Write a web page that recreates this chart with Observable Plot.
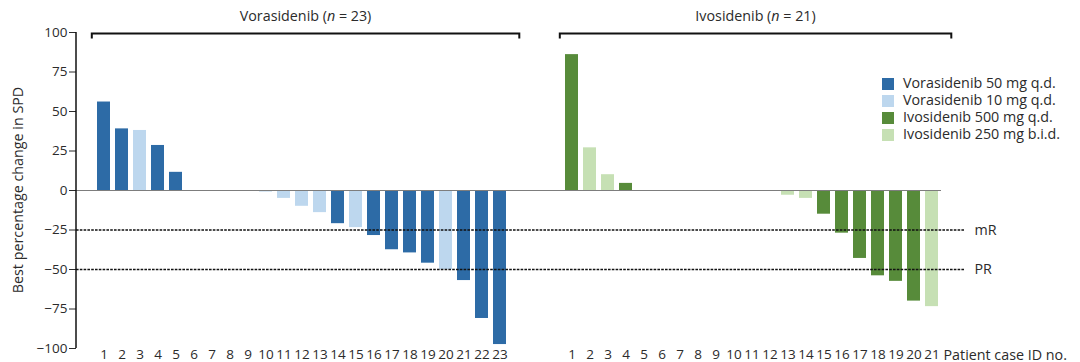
<!DOCTYPE html>
<html>
<head>
<meta charset="utf-8">
<script src="https://cdn.jsdelivr.net/npm/d3@7"></script>
<script src="https://cdn.jsdelivr.net/npm/@observablehq/plot@0.6"></script>
<style>
  html, body { margin: 0; padding: 0; background: #fff; }
  #chart { width: 1080px; height: 362px; }
</style>
</head>
<body>
<div id="chart"></div>
<script>
// ---- data ----
const groupNames = ["Vorasidenib", "Ivosidenib"];
const groupN = [23, 21];

const vorCases = ["1","2","3","4","5","6","7","8","9","10","11","12","13","14","15","16","17","18","19","20","21","22","23"];
const vorValues = [56, 39, 38, 28.5, 11.5, 0, 0, 0, 0, -1, -5, -10, -14, -21, -23.5, -28.5, -37.5, -39.5, -46, -50, -57, -81, -97.5];
const vorDoses = ["50","50","10","50","50","50","50","50","50","10","10","10","10","50","10","50","50","50","50","10","50","50","50"];

const ivoCases = ["1","2","3","4","5","6","7","8","9","10","11","12","13","14","15","16","17","18","19","20","21"];
const ivoValues = [86, 27, 10, 4.5, 0, 0, 0, 0, 0, 0, 0, 0, -3, -5, -15, -27, -43, -54, -57.5, -70, -73.5];
const ivoDoses = ["500","250","250","500","500","500","500","500","500","500","500","500","250","250","500","500","500","500","500","500","250"];

const doseLabels = ["Vorasidenib 50 mg q.d.", "Vorasidenib 10 mg q.d.", "Ivosidenib 500 mg q.d.", "Ivosidenib 250 mg b.i.d."];
const doseColors = ["#2d6ba6", "#bdd7ee", "#578b3a", "#c6e0b4"];
const yTicks = [100, 75, 50, 25, 0, -25, -50, -75, -100];
const thresholds = [-25, -50];
const thresholdLabels = ["mR", "PR"];
const xAxisTitle = "Patient case ID no.";
const yAxisTitle = "Best percentage change in SPD";

// ---- build table ----
const vorDoseLabel = {"50": doseLabels[0], "10": doseLabels[1]};
const ivoDoseLabel = {"500": doseLabels[2], "250": doseLabels[3]};
const rows = [
  ...vorCases.map((c, i) => ({key: "V" + c, label: c, value: vorValues[i], dose: vorDoseLabel[vorDoses[i]], group: 0})),
  ...ivoCases.map((c, i) => ({key: "I" + c, label: c, value: ivoValues[i], dose: ivoDoseLabel[ivoDoses[i]], group: 1}))
];
const labelOf = new Map(rows.map(d => [d.key, d.label]));
const xDomain = ["lead", ...vorCases.map(c => "V" + c), "gap1", "gap2", "gap3", ...ivoCases.map(c => "I" + c)];

const FONT = "'Open Sans', 'Liberation Sans', sans-serif";
const TXT = "#2b2b2b";
const FS = 14.3;

const chart = Plot.plot({
  width: 1080,
  height: 362,
  marginLeft: 76,
  marginRight: 140,
  marginTop: 32,
  marginBottom: 14,
  style: {fontFamily: FONT, fontSize: "13.5px", color: TXT, background: "#fff", overflow: "visible"},
  x: {type: "band", domain: xDomain, paddingInner: 0.28, paddingOuter: 0.14, align: 0.5},
  y: {domain: [-100, 100]},
  color: {domain: doseLabels, range: doseColors},
  marks: [
    Plot.barY(rows.filter(d => d.value !== 0), {x: "key", y: "value", fill: "dose"}),
    Plot.ruleY([0], {stroke: "#7d7d7d", strokeWidth: 1, insetRight: -1}),
    Plot.ruleY(thresholds, {stroke: "#111", strokeWidth: 1.5, strokeDasharray: "2.6,1.2", insetRight: -25}),
    Plot.text(thresholds, {y: d => d, text: (d, i) => thresholdLabels[i], frameAnchor: "right", dx: 34, textAnchor: "start", fontSize: FS, fill: TXT}),
    Plot.axisY({ticks: yTicks, tickSize: 7, tickPadding: 2, label: null, fontSize: 13.5}),
    Plot.axisX({tickSize: 0, tickPadding: 1, tickFormat: k => labelOf.get(k) ?? "", label: null, fontSize: 13.5}),
    Plot.text([xAxisTitle], {text: d => d, frameAnchor: "bottom-right", textAnchor: "start", lineAnchor: "top", dx: 3, dy: 1, fontSize: FS, fill: TXT})
  ]
});

document.getElementById("chart").appendChild(chart);

// ---- annotations positioned from the plot's own scales ----
const svg = d3.select(chart);
const xs = chart.scale("x");
const ys = chart.scale("y");
const bw = xs.bandwidth;
const step = xs.step;
const cx = k => xs.apply(k) + bw / 2;
const yTop = ys.apply(100), yBot = ys.apply(-100);

// y axis line
svg.append("line")
  .attr("x1", xs.range[0]).attr("x2", xs.range[0])
  .attr("y1", yTop).attr("y2", yBot)
  .attr("stroke", "#111").attr("stroke-width", 1.5);

// y axis title
svg.append("text")
  .attr("transform", `translate(19,${(yTop + yBot) / 2}) rotate(-90)`)
  .attr("text-anchor", "middle").attr("dominant-baseline", "middle")
  .attr("font-family", FONT).attr("font-size", FS).attr("fill", TXT)
  .text(yAxisTitle);

// group brackets and titles
const groupKeys = [vorCases.map(c => "V" + c), ivoCases.map(c => "I" + c)];
groupKeys.forEach((keys, g) => {
  const x1 = cx(keys[0]) - 0.65 * step;
  const x2 = cx(keys[keys.length - 1]) + 1.1 * step;
  const yb = yTop + 1.5;
  svg.append("path")
    .attr("d", `M${x1},${yb + 5}V${yb}H${x2}V${yb + 5}`)
    .attr("fill", "none").attr("stroke", "#111").attr("stroke-width", 2);
  const t = svg.append("text")
    .attr("x", (x1 + x2) / 2).attr("y", yTop - 15)
    .attr("text-anchor", "middle").attr("dominant-baseline", "middle")
    .attr("font-family", FONT).attr("font-size", FS).attr("fill", TXT);
  t.append("tspan").text(groupNames[g] + " (");
  t.append("tspan").attr("font-style", "italic").text("n");
  t.append("tspan").text(" = " + groupN[g] + ")");
});

// legend
const lg = svg.append("g").attr("transform", `translate(${xs.range[1] - 58},${yTop + 46})`);
doseLabels.forEach((lab, i) => {
  const row = lg.append("g").attr("transform", `translate(0,${i * 17})`);
  row.append("rect").attr("x", 0).attr("y", 0).attr("width", 12).attr("height", 12).attr("fill", doseColors[i]);
  row.append("text").attr("x", 21).attr("y", 6)
    .attr("text-anchor", "start").attr("dominant-baseline", "middle")
    .attr("font-family", FONT).attr("font-size", FS).attr("fill", TXT).text(lab);
});
</script>
</body>
</html>
